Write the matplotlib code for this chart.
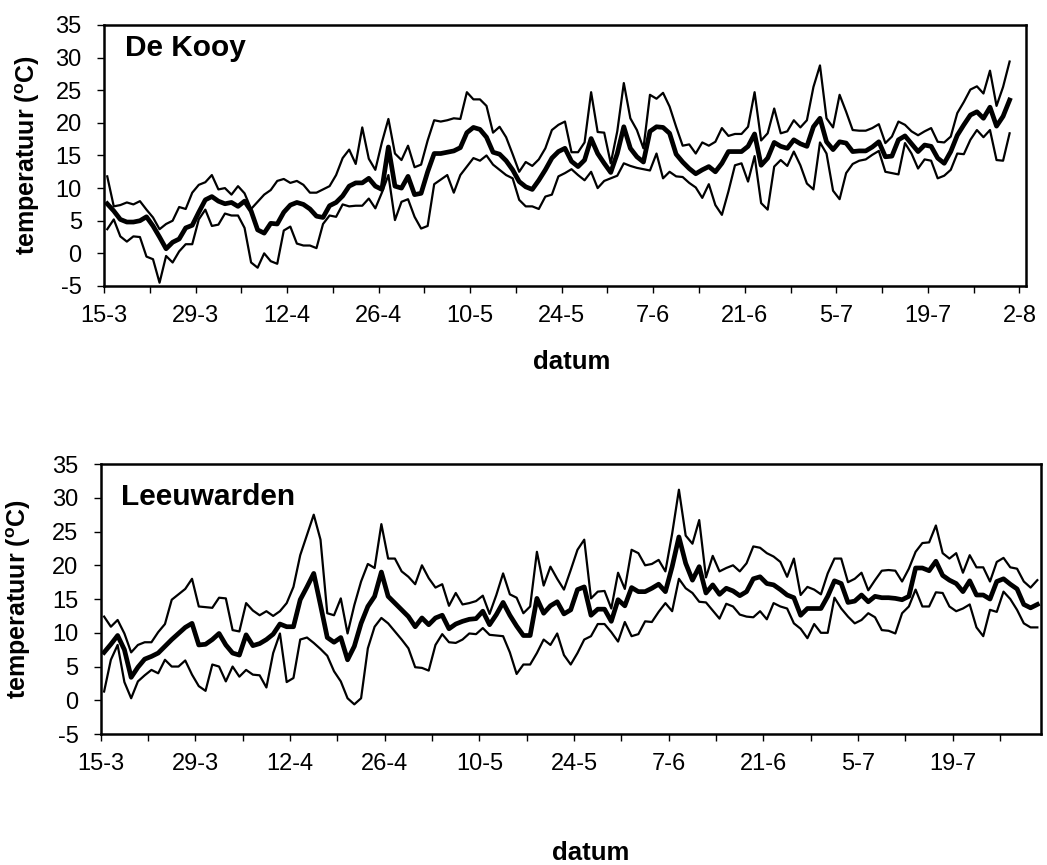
import numpy as np
import matplotlib
matplotlib.use('Agg')
import matplotlib.pyplot as plt

plt.rcParams['font.family'] = ['Liberation Sans', 'DejaVu Sans']
plt.rcParams['mathtext.fontset'] = 'custom'
plt.rcParams['mathtext.rm'] = 'Liberation Sans'
plt.rcParams['mathtext.bf'] = 'Liberation Sans:bold'
plt.rcParams['axes.unicode_minus'] = False

# daily temperatures from 15-3 on (day 0)
kooy_max = [11.8, 7.2, 7.4, 7.8, 7.5, 8.0, 6.7, 5.5, 3.7, 4.5,
            5.0, 7.1, 6.8, 9.3, 10.5, 10.9, 12.0, 9.8, 10.0, 9.0,
            10.3, 9.2, 6.8, 7.9, 9.0, 9.7, 11.1, 11.4, 10.8, 11.1,
            10.5, 9.3, 9.3, 9.8, 10.3, 12.0, 14.6, 15.9, 13.7, 19.3,
            14.5, 12.8, 17.0, 20.6, 15.3, 14.3, 16.5, 13.2, 13.6, 17.3,
            20.4, 20.2, 20.4, 20.7, 20.6, 24.7, 23.6, 23.6, 22.6, 18.5,
            19.4, 17.8, 15.2, 12.5, 14.0, 13.4, 14.4, 16.1, 18.9, 19.7,
            20.2, 15.5, 15.5, 17.0, 24.7, 18.6, 18.5, 13.8, 18.7, 26.1,
            20.7, 18.9, 16.1, 24.3, 23.7, 24.6, 22.5, 19.4, 16.5, 16.7,
            15.3, 17.0, 16.5, 17.1, 19.2, 18.0, 18.3, 18.3, 19.4, 24.7,
            17.3, 18.4, 22.2, 18.4, 18.7, 20.4, 19.3, 20.4, 25.5, 28.8,
            20.7, 19.3, 24.3, 21.7, 18.9, 18.8, 18.8, 19.2, 19.8, 16.9,
            17.9, 20.2, 19.7, 18.7, 18.1, 18.7, 19.2, 17.1, 17.0, 17.9,
            21.5, 23.2, 25.1, 25.6, 24.5, 28.0, 22.6, 25.5, 29.4]
kooy_mean = [7.6, 6.5, 5.2, 4.8, 4.8, 5.0, 5.6, 4.2, 2.5, 0.7,
             1.7, 2.2, 3.9, 4.3, 6.3, 8.2, 8.7, 8.0, 7.6, 7.8,
             7.2, 8.0, 6.5, 3.6, 3.1, 4.6, 4.5, 6.3, 7.4, 7.8,
             7.5, 6.8, 5.7, 5.5, 7.3, 7.8, 8.8, 10.3, 10.8, 10.8,
             11.5, 10.3, 9.8, 16.3, 10.3, 10.0, 11.8, 9.0, 9.2, 12.5,
             15.3, 15.3, 15.5, 15.7, 16.2, 18.5, 19.3, 19.0, 17.8, 15.5,
             15.2, 14.2, 12.8, 11.0, 10.2, 9.8, 11.2, 12.8, 14.6, 15.6,
             16.1, 14.1, 13.3, 14.3, 17.6, 15.3, 13.8, 12.4, 15.3, 19.4,
             16.1, 14.8, 14.0, 18.7, 19.4, 19.3, 18.4, 15.2, 14.0, 13.0,
             12.2, 12.8, 13.3, 12.5, 13.8, 15.6, 15.6, 15.6, 16.4, 18.3,
             13.5, 14.6, 17.0, 16.4, 16.1, 17.4, 16.8, 16.4, 19.4, 20.7,
             17.1, 15.9, 17.1, 16.9, 15.6, 15.7, 15.7, 16.3, 17.1, 14.8,
             14.9, 17.4, 18.0, 16.8, 15.6, 16.6, 16.4, 14.6, 13.8, 15.6,
             18.1, 19.7, 21.2, 21.7, 20.7, 22.4, 19.5, 21.0, 23.5]
kooy_min = [3.7, 5.2, 2.6, 1.8, 2.6, 2.5, -0.5, -0.9, -4.5, -0.4,
            -1.4, 0.3, 1.4, 1.4, 5.2, 6.7, 4.2, 4.4, 6.1, 5.8,
            5.8, 3.9, -1.4, -2.2, 0.0, -1.2, -1.6, 3.5, 4.1, 1.5,
            1.2, 1.2, 0.8, 4.5, 5.8, 5.6, 7.5, 7.2, 7.3, 7.3,
            8.4, 6.9, 9.3, 12.0, 5.1, 7.9, 8.3, 5.6, 3.8, 4.2,
            10.6, 11.3, 12.0, 9.3, 12.0, 13.3, 14.6, 14.2, 15.0, 13.6,
            12.8, 12.0, 11.5, 8.2, 7.2, 7.2, 6.8, 8.7, 9.0, 11.8,
            12.3, 12.9, 12.0, 11.2, 12.5, 10.0, 11.1, 11.5, 11.9, 13.8,
            13.4, 13.1, 12.9, 12.7, 15.3, 11.5, 12.5, 11.8, 11.7, 10.8,
            10.1, 8.5, 10.6, 7.4, 5.9, 9.5, 13.5, 13.8, 11.0, 14.9,
            7.7, 6.7, 13.3, 14.3, 13.4, 15.6, 13.5, 10.7, 9.8, 17.0,
            15.3, 9.6, 8.3, 12.3, 13.7, 14.2, 14.4, 15.1, 15.7, 12.5,
            12.3, 12.1, 16.9, 15.3, 13.0, 14.4, 14.2, 11.5, 11.9, 12.8,
            15.3, 15.2, 17.4, 18.9, 17.8, 18.9, 14.3, 14.2, 18.4]

leeu_max = [12.4, 10.9, 11.9, 9.9, 7.1, 8.2, 8.6, 8.6, 10.1, 11.3,
            14.9, 15.7, 16.5, 18.0, 13.9, 13.8, 13.7, 15.2, 15.1, 10.4,
            10.2, 14.4, 13.3, 12.6, 13.2, 12.5, 13.2, 14.4, 16.8, 21.5,
            24.5, 27.5, 23.8, 12.9, 12.6, 15.1, 9.9, 14.1, 17.6, 20.2,
            19.6, 26.1, 21.0, 21.0, 19.1, 18.3, 17.2, 20.0, 18.1, 16.7,
            17.2, 14.0, 15.9, 14.2, 14.4, 14.7, 15.5, 12.8, 15.6, 18.8,
            15.7, 15.2, 12.9, 13.9, 22.0, 17.0, 19.8, 18.0, 16.4, 19.3,
            22.3, 23.8, 15.1, 16.1, 16.2, 13.6, 18.9, 16.5, 22.3, 21.8,
            20.0, 20.2, 20.8, 19.1, 24.7, 31.2, 24.4, 23.2, 26.7, 18.2,
            21.4, 19.1, 19.6, 20.0, 19.1, 20.3, 22.8, 22.6, 21.8, 21.3,
            20.5, 18.3, 21.0, 15.6, 16.8, 16.4, 15.7, 18.8, 21.0, 21.0,
            17.5, 18.0, 18.9, 16.3, 17.8, 19.2, 19.3, 19.2, 17.6, 19.5,
            22.0, 23.3, 23.4, 25.9, 21.8, 21.0, 21.8, 18.9, 21.5, 19.7,
            19.7, 17.6, 20.5, 21.1, 19.7, 19.5, 17.6, 16.7, 17.8]
leeu_mean = [7.1, 8.3, 9.6, 7.5, 3.4, 4.9, 6.1, 6.5, 7.0, 8.0,
             9.0, 9.9, 10.8, 11.4, 8.2, 8.3, 9.0, 9.9, 8.2, 7.0,
             6.7, 9.7, 8.1, 8.4, 9.0, 9.8, 11.3, 10.9, 10.9, 14.9,
             16.8, 18.8, 14.1, 9.3, 8.6, 9.3, 6.0, 8.0, 11.4, 13.9,
             15.4, 19.0, 15.4, 14.4, 13.4, 12.4, 10.9, 12.2, 11.2, 12.2,
             12.6, 10.6, 11.3, 11.7, 12.0, 12.1, 13.2, 11.2, 12.7, 14.5,
             12.6, 11.0, 9.6, 9.6, 15.1, 12.9, 14.0, 14.6, 12.8, 13.4,
             16.4, 16.8, 12.6, 13.5, 13.5, 11.7, 14.9, 14.0, 16.7, 16.1,
             16.1, 16.6, 17.2, 16.1, 19.8, 24.2, 20.3, 17.8, 19.8, 15.9,
             17.1, 15.7, 16.6, 16.2, 15.5, 16.1, 18.0, 18.3, 17.3, 17.1,
             16.4, 15.6, 15.2, 12.6, 13.6, 13.6, 13.6, 15.4, 17.7, 17.3,
             14.5, 14.7, 15.6, 14.6, 15.4, 15.2, 15.2, 15.1, 14.9, 15.4,
             19.6, 19.6, 19.2, 20.6, 18.5, 17.8, 17.3, 16.1, 17.7, 15.6,
             15.6, 15.0, 17.6, 18.0, 17.2, 16.5, 14.2, 13.7, 14.2]
leeu_min = [1.3, 6.0, 8.2, 2.7, 0.3, 2.8, 3.7, 4.5, 4.0, 6.0,
            5.0, 5.0, 5.9, 3.8, 2.1, 1.4, 5.3, 5.0, 2.8, 5.0,
            3.5, 4.5, 3.8, 3.7, 1.9, 7.0, 9.9, 2.7, 3.3, 9.0,
            9.3, 8.5, 7.6, 6.6, 4.3, 2.8, 0.3, -0.6, 0.3, 7.7,
            10.9, 12.2, 11.4, 10.2, 9.0, 7.7, 4.9, 4.8, 4.4, 8.2,
            9.8, 8.6, 8.5, 9.0, 9.9, 9.8, 10.7, 9.7, 9.6, 9.5,
            7.1, 3.9, 5.3, 5.3, 7.0, 9.0, 8.2, 9.9, 6.7, 5.3,
            7.0, 9.0, 9.5, 11.3, 11.3, 10.1, 8.7, 11.6, 9.5, 9.8,
            11.7, 11.6, 13.1, 14.4, 13.2, 18.0, 16.6, 15.9, 14.6, 14.5,
            13.3, 12.1, 14.3, 13.9, 12.7, 12.4, 12.3, 13.2, 12.0, 14.4,
            13.9, 13.6, 11.4, 10.6, 9.2, 11.3, 10.0, 10.0, 15.2, 13.6,
            12.4, 11.4, 11.9, 12.9, 12.3, 10.4, 10.3, 9.9, 12.9, 13.9,
            16.4, 13.9, 13.9, 16.0, 15.9, 13.9, 13.2, 13.6, 14.2, 10.8,
            9.5, 13.4, 13.1, 16.1, 15.0, 13.4, 11.4, 10.8, 10.8]

tick_days = [0, 14, 28, 42, 56, 70, 84, 98, 112, 126, 140]
tick_labels = ['15-3', '29-3', '12-4', '26-4', '10-5', '24-5', '7-6',
               '21-6', '5-7', '19-7', '2-8']


def draw_panel(ax, tmax, tmean, tmin, station, xmax, title_xy, ylab_x):
    days = np.arange(len(tmean)) + 0.5
    ax.plot(days, tmax, color='black', lw=1.6)
    ax.plot(days, tmin, color='black', lw=1.6)
    ax.plot(days, tmean, color='black', lw=3.4)

    # only the ticks that fall inside the axis
    shown = [(d, l) for d, l in zip(tick_days, tick_labels) if d <= xmax]
    ax.set_xticks([d for d, _ in shown])
    ax.set_xticklabels([l for _, l in shown])
    ax.set_xticks(np.arange(7, xmax, 14), minor=True)
    ax.set_yticks(range(-5, 36, 5))
    ax.set_xlim(0, xmax)
    ax.set_ylim(-5, 35)

    ax.tick_params(which='both', direction='out', length=5, width=1,
                   labelsize=17, color='black')
    ax.tick_params(axis='x', pad=9)
    ax.tick_params(axis='y', pad=11)
    for s in ax.spines.values():
        s.set_linewidth(1.8)

    ax.text(title_xy[0], title_xy[1], station, transform=ax.transAxes,
            fontsize=21.5, fontweight='bold', va='center', ha='left')
    ax.set_ylabel(r'temperatuur ($^{\mathbf{o}}$C)', fontsize=18,
                  fontweight='bold')
    ax.yaxis.set_label_coords(ylab_x, 0.5)


fig = plt.figure(figsize=(10.47, 8.65), dpi=100)

ax1 = fig.add_axes([0.0993, 0.6694, 0.8806, 0.3017])
draw_panel(ax1, kooy_max, kooy_mean, kooy_min, 'De Kooy', 141,
           (0.023, 0.91), -0.067)
fig.text(572 / 1047, 1 - 362 / 865, 'datum', fontsize=18.5,
         fontweight='bold', ha='center', va='center')

ax2 = fig.add_axes([0.0962, 0.1514, 0.8978, 0.3121])
draw_panel(ax2, leeu_max, leeu_mean, leeu_min, 'Leeuwarden', 139,
           (0.022, 0.878), -0.072)
fig.text(591 / 1047, 1 - 853 / 865, 'datum', fontsize=18.5,
         fontweight='bold', ha='center', va='center')

fig.savefig('out.png', dpi=100)
